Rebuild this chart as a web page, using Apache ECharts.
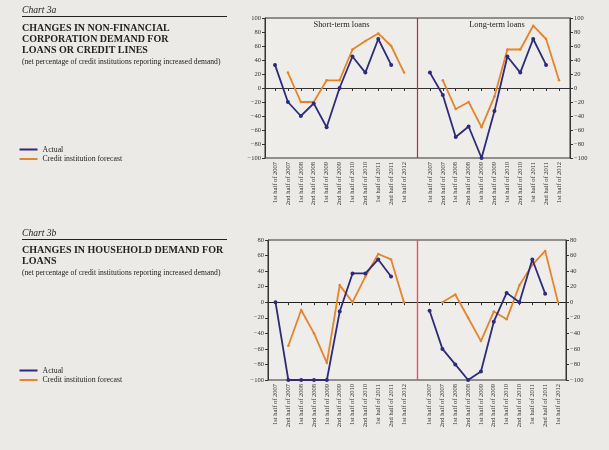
<!DOCTYPE html>
<html>
<head>
<meta charset="utf-8">
<script src="https://cdn.jsdelivr.net/npm/echarts@6/dist/echarts.min.js"></script>
<style>
html,body{margin:0;padding:0;background:#ECEAE7;}
#c{width:609px;height:450px;}
</style>
</head>
<body>
<div id="c"></div>
<script>
// ---- data ----
var periods = ['1st half of 2007','2nd half of 2007','1st half of 2008','2nd half of 2008','1st half of 2009','2nd half of 2009','1st half of 2010','2nd half of 2010','1st half of 2011','2nd half of 2011','1st half of 2012'];
var shortActual   = [33,-20,-40,-22,-56,0,45,22,70,33,null];
var shortForecast = [null,22,-20,-20,11,11,55,67,78,60,22];
var longActual    = [22,-10,-70,-55,-100,-33,45,22,70,33,null];
var longForecast  = [null,11,-30,-20,-56,-12,55,55,89,70,11];
var hhLeftActual    = [0,-100,-100,-100,-100,-12,37,37,55,33,null];
var hhLeftForecast  = [null,-56,-10,-40,-78,22,0,33,62,55,0];
var hhRightActual   = [-11,-60,-80,-100,-89,-25,12,0,55,11,null];
var hhRightForecast = [null,0,10,-20,-50,-12,-22,22,48,66,0];
var yTicksTop = {min:-100, max:100, interval:20};
var yTicksBottom = {min:-100, max:80, interval:20};

var cats = periods.concat(['']).concat(periods);
function join(a,b){ return a.concat([null]).concat(b); }

var FONT = 'Liberation Serif';
var BLUE = '#2D2B7D', ORANGE = '#E8832A';

function yLabelFmt(v){ return String(v).replace('-', '\u2212'); }

function outerY(rng, pos){
  return {
    type:'value', min:rng.min, max:rng.max, interval:rng.interval, position:pos,
    axisLine:{show:true, lineStyle:{color:'#333', width:1}},
    axisTick:{show:true, inside:false, length:3, lineStyle:{color:'#333'}},
    axisLabel:{fontFamily:FONT, fontSize:6.5, color:'#333', margin:4, formatter:yLabelFmt},
    splitLine:{show:false}
  };
}

var option = {
  animation:false,
  backgroundColor:'#ECEAE7',
  grid:[
    {left:265, right:39, top:18, bottom:292, show:true, borderColor:'#333', borderWidth:1, backgroundColor:'#EEEDEA'},
    {left:275, right:50, top:18, bottom:292},
    {left:268, right:43, top:240, bottom:70, show:true, borderColor:'#333', borderWidth:1, backgroundColor:'#EEEDEA'},
    {left:275.5, right:51, top:240, bottom:70}
  ],
  xAxis:[
    {gridIndex:0, type:'value', min:0, max:1, axisLine:{show:true, onZero:true, lineStyle:{color:'#333', width:1}}, axisTick:{show:false}, axisLabel:{show:false}, splitLine:{show:false}},
    {gridIndex:1, type:'category', data:cats, boundaryGap:false,
      axisLine:{show:false}, splitLine:{show:false},
      axisTick:{show:true, length:3, lineStyle:{color:'#333'}, interval:function(i){return i!==11;}},
      axisLabel:{interval:0, rotate:90, fontFamily:FONT, fontSize:6.5, color:'#333', margin:4}},
    {gridIndex:2, type:'value', min:0, max:1, axisLine:{show:true, onZero:true, lineStyle:{color:'#222', width:1}}, axisTick:{show:false}, axisLabel:{show:false}, splitLine:{show:false}},
    {gridIndex:3, type:'category', data:cats, boundaryGap:false,
      axisLine:{show:false}, splitLine:{show:false},
      axisTick:{show:true, length:3, lineStyle:{color:'#333'}, interval:function(i){return i!==11;}},
      axisLabel:{interval:0, rotate:90, fontFamily:FONT, fontSize:6.5, color:'#333', margin:4}}
  ],
  yAxis:[
    Object.assign({gridIndex:0}, outerY(yTicksTop,'left')),
    Object.assign({gridIndex:0}, outerY(yTicksTop,'right')),
    {gridIndex:1, type:'value', min:yTicksTop.min, max:yTicksTop.max, show:false},
    Object.assign({gridIndex:2}, outerY(yTicksBottom,'left')),
    Object.assign({gridIndex:2}, outerY(yTicksBottom,'right')),
    {gridIndex:3, type:'value', min:yTicksBottom.min, max:yTicksBottom.max, show:false}
  ],
  legend:[
    {left:19.5, top:145, padding:0, orient:'vertical', icon:'rect', itemWidth:18, itemHeight:2, itemGap:0.5,
     textStyle:{fontFamily:FONT, fontSize:7.8, color:'#222', lineHeight:9},
     data:['Actual','Credit institution forecast']},
    {left:19.5, top:366, padding:0, orient:'vertical', icon:'rect', itemWidth:18, itemHeight:2, itemGap:0.5,
     textStyle:{fontFamily:FONT, fontSize:7.8, color:'#222', lineHeight:9},
     data:['Actual','Credit institution forecast']}
  ],
  series:[
    {name:'Actual', type:'line', xAxisIndex:1, yAxisIndex:2, data:join(shortActual,longActual),
     lineStyle:{color:BLUE, width:1.8}, itemStyle:{color:BLUE}, symbol:'circle', symbolSize:4, z:4,
     markLine:{silent:true, symbol:'none', label:{show:false}, lineStyle:{color:'#D4202A', width:1.2, type:'solid', opacity:1}, data:[{xAxis:11}]}},
    {name:'Credit institution forecast', type:'line', xAxisIndex:1, yAxisIndex:2, data:join(shortForecast,longForecast),
     lineStyle:{color:ORANGE, width:1.8}, itemStyle:{color:ORANGE}, symbol:'circle', symbolSize:2.5, z:3},
    {name:'Actual', type:'line', xAxisIndex:3, yAxisIndex:5, data:join(hhLeftActual,hhRightActual),
     lineStyle:{color:BLUE, width:1.8}, itemStyle:{color:BLUE}, symbol:'circle', symbolSize:4, z:4,
     markLine:{silent:true, symbol:'none', label:{show:false}, lineStyle:{color:'#E8505C', width:1.4, type:'solid', opacity:1}, data:[{xAxis:11}]}},
    {name:'Credit institution forecast', type:'line', xAxisIndex:3, yAxisIndex:5, data:join(hhLeftForecast,hhRightForecast),
     lineStyle:{color:ORANGE, width:1.8}, itemStyle:{color:ORANGE}, symbol:'circle', symbolSize:2.5, z:3}
  ],
  graphic:[
    {type:'text', x:22, y:10, style:{text:'Chart 3a', fontFamily:FONT, fontStyle:'italic', fontSize:9.6, fill:'#222', textVerticalAlign:'middle'}},
    {type:'line', shape:{x1:22, y1:16.5, x2:227, y2:16.5}, style:{stroke:'#222', lineWidth:1}},
    {type:'text', x:22, y:28.3, style:{text:'CHANGES IN NON-FINANCIAL', fontFamily:FONT, fontWeight:'bold', fontSize:10, fill:'#222', textVerticalAlign:'middle'}},
    {type:'text', x:22, y:39.5, style:{text:'CORPORATION DEMAND FOR', fontFamily:FONT, fontWeight:'bold', fontSize:10, fill:'#222', textVerticalAlign:'middle'}},
    {type:'text', x:22, y:50.5, style:{text:'LOANS OR CREDIT LINES', fontFamily:FONT, fontWeight:'bold', fontSize:10, fill:'#222', textVerticalAlign:'middle'}},
    {type:'text', x:22, y:61.7, style:{text:'(net percentage of credit institutions reporting increased demand)', fontFamily:FONT, fontSize:7.6, fill:'#222', textVerticalAlign:'middle'}},
    {type:'text', x:341.5, y:25, style:{text:'Short-term loans', fontFamily:FONT, fontSize:8.4, fill:'#222', textAlign:'center', textVerticalAlign:'middle'}},
    {type:'text', x:497, y:25, style:{text:'Long-term loans', fontFamily:FONT, fontSize:8.4, fill:'#222', textAlign:'center', textVerticalAlign:'middle'}},
    {type:'text', x:22, y:233.3, style:{text:'Chart 3b', fontFamily:FONT, fontStyle:'italic', fontSize:9.6, fill:'#222', textVerticalAlign:'middle'}},
    {type:'line', shape:{x1:22, y1:239.5, x2:227, y2:239.5}, style:{stroke:'#222', lineWidth:1}},
    {type:'text', x:22, y:250.5, style:{text:'CHANGES IN HOUSEHOLD DEMAND FOR', fontFamily:FONT, fontWeight:'bold', fontSize:10, fill:'#222', textVerticalAlign:'middle'}},
    {type:'text', x:22, y:261.5, style:{text:'LOANS', fontFamily:FONT, fontWeight:'bold', fontSize:10, fill:'#222', textVerticalAlign:'middle'}},
    {type:'text', x:22, y:272.5, style:{text:'(net percentage of credit institutions reporting increased demand)', fontFamily:FONT, fontSize:7.6, fill:'#222', textVerticalAlign:'middle'}}
  ]
};
var chart = echarts.init(document.getElementById('c'));
chart.setOption(option);
</script>
</body>
</html>
